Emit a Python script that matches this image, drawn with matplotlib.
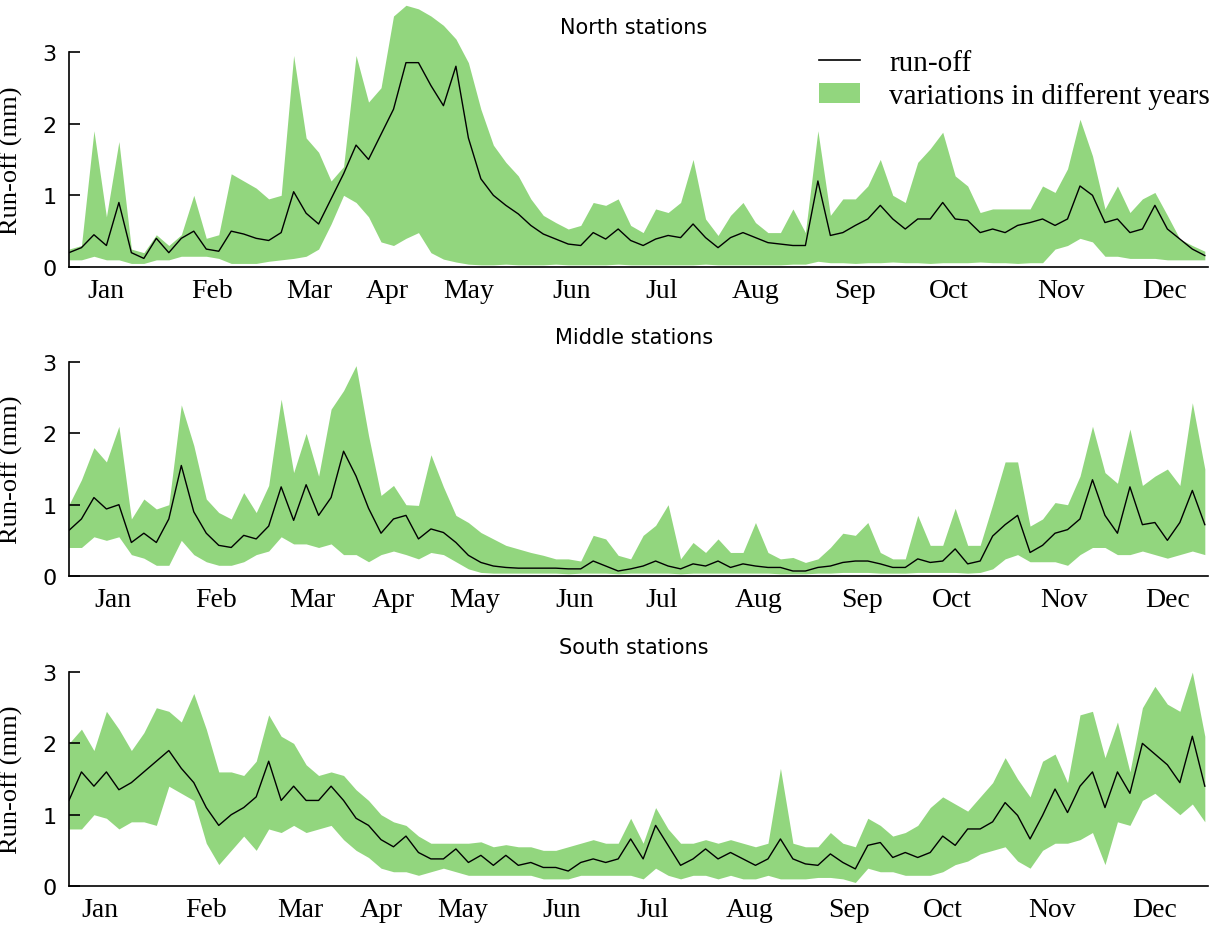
import numpy as np
import matplotlib
matplotlib.use('Agg')
import matplotlib.pyplot as plt
from matplotlib.lines import Line2D
from matplotlib.patches import Patch

# day of year, sampled every 4 days
days = np.arange(0, 365, 4)

months = ['Jan', 'Feb', 'Mar', 'Apr', 'May', 'Jun', 'Jul', 'Aug', 'Sep', 'Oct', 'Nov', 'Dec']
# the month labels sit at slightly different places in each panel
north_ticks = [12, 46, 77, 102, 128, 161, 190, 220, 252, 282, 318, 351]
middle_ticks = [14, 47, 78, 104, 130, 162, 190, 221, 254, 283, 319, 352]
south_ticks = [10, 44, 74, 100, 126, 158, 187, 218, 250, 280, 315, 348]

north_mean = [0.2, 0.27, 0.45, 0.3, 0.9, 0.2, 0.12, 0.4, 0.2, 0.4, 0.5, 0.25, 0.22, 0.5, 0.46,
              0.4, 0.37, 0.48, 1.05, 0.75, 0.6, 0.95, 1.3, 1.7, 1.5, 1.85, 2.2, 2.85, 2.85,
              2.53, 2.25, 2.8, 1.8, 1.23, 1.0, 0.86, 0.74, 0.58, 0.46, 0.39, 0.32, 0.3, 0.48, 0.39,
              0.53, 0.37, 0.3, 0.39, 0.44, 0.41, 0.6, 0.41, 0.27, 0.41, 0.48, 0.41, 0.34, 0.32, 0.3, 0.3,
              1.2, 0.44, 0.48, 0.58, 0.67, 0.86, 0.67, 0.53, 0.67, 0.67, 0.9, 0.67, 0.65, 0.48, 0.53, 0.48,
              0.58, 0.62, 0.67, 0.58, 0.67, 1.13, 1.0, 0.62, 0.67, 0.48, 0.53, 0.86, 0.53, 0.39, 0.25, 0.16]
north_high = [0.25, 0.3, 1.9, 0.7, 1.75, 0.25, 0.2, 0.45, 0.3, 0.45, 1.0, 0.4, 0.45, 1.3, 1.2,
              1.1, 0.95, 1.0, 2.95, 1.8, 1.6, 1.2, 1.4, 2.95, 2.3, 2.5, 3.5, 3.65, 3.6,
              3.5, 3.37, 3.18, 2.85, 2.2, 1.7, 1.46, 1.27, 0.95, 0.72, 0.62, 0.53, 0.58, 0.9, 0.86,
              0.95, 0.58, 0.48, 0.81, 0.76, 0.9, 1.5, 0.67, 0.44, 0.72, 0.9, 0.62, 0.48, 0.48, 0.81, 0.48,
              1.9, 0.72, 0.95, 0.95, 1.13, 1.5, 1.0, 0.9, 1.46, 1.65, 1.88, 1.27, 1.13, 0.76, 0.81, 0.81,
              0.81, 0.81, 1.13, 1.04, 1.37, 2.06, 1.55, 0.81, 1.13, 0.76, 0.95, 1.04, 0.72, 0.39, 0.3, 0.22]
north_low = [0.1, 0.1, 0.15, 0.1, 0.1, 0.05, 0.05, 0.1, 0.1, 0.15, 0.15, 0.15, 0.12, 0.05, 0.05,
             0.05, 0.08, 0.1, 0.12, 0.15, 0.25, 0.6, 1.0, 0.9, 0.7, 0.35, 0.3, 0.4, 0.48,
             0.2, 0.11, 0.07, 0.04, 0.03, 0.03, 0.04, 0.03, 0.03, 0.03, 0.04, 0.03, 0.03, 0.03, 0.03,
             0.04, 0.03, 0.03, 0.03, 0.03, 0.03, 0.03, 0.04, 0.03, 0.03, 0.03, 0.03, 0.03, 0.03, 0.04, 0.04,
             0.08, 0.06, 0.06, 0.05, 0.06, 0.06, 0.07, 0.06, 0.06, 0.05, 0.06, 0.06, 0.06, 0.07, 0.06, 0.06,
             0.05, 0.06, 0.06, 0.25, 0.3, 0.4, 0.35, 0.15, 0.15, 0.12, 0.12, 0.12, 0.1, 0.1, 0.1, 0.1]

middle_mean = [0.64, 0.8, 1.1, 0.94, 1.0, 0.47, 0.6, 0.47, 0.8, 1.55, 0.9, 0.6, 0.43, 0.4, 0.57,
               0.52, 0.7, 1.25, 0.78, 1.28, 0.85, 1.1, 1.75, 1.4, 0.95, 0.6, 0.8, 0.85, 0.52,
               0.66, 0.61, 0.47, 0.29, 0.19, 0.14, 0.12, 0.11, 0.11, 0.11, 0.11, 0.1, 0.1, 0.21, 0.14,
               0.07, 0.1, 0.14, 0.21, 0.14, 0.1, 0.17, 0.14, 0.21, 0.12, 0.17, 0.14, 0.12, 0.12, 0.07, 0.07,
               0.12, 0.14, 0.19, 0.21, 0.21, 0.17, 0.12, 0.12, 0.24, 0.19, 0.21, 0.38, 0.17, 0.21, 0.56, 0.72,
               0.85, 0.33, 0.43, 0.6, 0.65, 0.8, 1.35, 0.85, 0.6, 1.25, 0.72, 0.75, 0.5, 0.75, 1.2, 0.72]
middle_high = [1.0, 1.35, 1.8, 1.6, 2.1, 0.8, 1.08, 0.94, 1.0, 2.4, 1.83, 1.08, 0.89, 0.8, 1.17,
               0.89, 1.27, 2.48, 1.45, 2.0, 1.4, 2.34, 2.6, 2.95, 1.97, 1.13, 1.27, 1.0, 0.99,
               1.7, 1.25, 0.85, 0.75, 0.61, 0.52, 0.43, 0.38, 0.33, 0.29, 0.24, 0.24, 0.21, 0.57, 0.52,
               0.29, 0.24, 0.57, 0.71, 1.0, 0.24, 0.47, 0.33, 0.52, 0.33, 0.33, 0.75, 0.33, 0.24, 0.26, 0.19,
               0.24, 0.4, 0.6, 0.57, 0.75, 0.33, 0.24, 0.24, 0.85, 0.43, 0.43, 0.95, 0.43, 0.43, 1.0, 1.6,
               1.6, 0.7, 0.8, 1.03, 1.0, 1.4, 2.1, 1.45, 1.3, 2.06, 1.27, 1.4, 1.5, 1.27, 2.43, 1.5]
middle_low = [0.4, 0.4, 0.55, 0.5, 0.55, 0.3, 0.25, 0.15, 0.15, 0.5, 0.3, 0.2, 0.15, 0.15, 0.2,
              0.3, 0.35, 0.55, 0.45, 0.45, 0.4, 0.45, 0.3, 0.3, 0.2, 0.3, 0.35, 0.3, 0.24,
              0.33, 0.3, 0.2, 0.1, 0.05, 0.04, 0.04, 0.04, 0.04, 0.04, 0.04, 0.03, 0.04, 0.04, 0.04,
              0.03, 0.04, 0.04, 0.04, 0.04, 0.03, 0.04, 0.04, 0.04, 0.04, 0.04, 0.04, 0.04, 0.03, 0.03, 0.03,
              0.04, 0.04, 0.05, 0.05, 0.05, 0.04, 0.04, 0.04, 0.05, 0.05, 0.05, 0.05, 0.04, 0.05, 0.1, 0.24,
              0.3, 0.2, 0.2, 0.2, 0.15, 0.3, 0.4, 0.4, 0.3, 0.3, 0.35, 0.3, 0.25, 0.3, 0.35, 0.3]

south_mean = [1.2, 1.6, 1.4, 1.6, 1.35, 1.45, 1.6, 1.75, 1.9, 1.65, 1.45, 1.1, 0.85, 1.0, 1.1,
              1.25, 1.75, 1.2, 1.4, 1.2, 1.2, 1.4, 1.2, 0.95, 0.85, 0.65, 0.55, 0.7, 0.47,
              0.38, 0.38, 0.52, 0.33, 0.43, 0.29, 0.43, 0.29, 0.33, 0.26, 0.26, 0.21, 0.33, 0.38, 0.33,
              0.38, 0.66, 0.38, 0.85, 0.57, 0.29, 0.38, 0.52, 0.38, 0.47, 0.38, 0.29, 0.38, 0.66, 0.38, 0.31,
              0.29, 0.45, 0.33, 0.24, 0.57, 0.61, 0.4, 0.47, 0.4, 0.47, 0.7, 0.57, 0.8, 0.8, 0.9, 1.17,
              0.99, 0.66, 0.99, 1.36, 1.03, 1.4, 1.6, 1.1, 1.6, 1.3, 2.0, 1.85, 1.7, 1.45, 2.1, 1.4]
south_high = [2.0, 2.2, 1.9, 2.45, 2.2, 1.9, 2.15, 2.5, 2.45, 2.3, 2.7, 2.2, 1.6, 1.6, 1.55,
              1.75, 2.4, 2.1, 2.0, 1.7, 1.55, 1.6, 1.55, 1.35, 1.2, 1.0, 0.9, 0.85, 0.7,
              0.6, 0.6, 0.6, 0.6, 0.62, 0.55, 0.58, 0.55, 0.55, 0.5, 0.5, 0.55, 0.6, 0.65, 0.6,
              0.6, 0.95, 0.6, 1.1, 0.8, 0.6, 0.6, 0.65, 0.6, 0.65, 0.6, 0.55, 0.6, 1.65, 0.6, 0.55,
              0.55, 0.75, 0.6, 0.55, 0.95, 0.85, 0.7, 0.75, 0.85, 1.1, 1.25, 1.15, 1.05, 1.25, 1.45, 1.8,
              1.5, 1.25, 1.75, 1.85, 1.45, 2.4, 2.45, 1.8, 2.3, 1.6, 2.5, 2.8, 2.55, 2.45, 3.0, 2.1]
south_low = [0.8, 0.8, 1.0, 0.95, 0.8, 0.9, 0.9, 0.85, 1.4, 1.3, 1.2, 0.6, 0.3, 0.5, 0.7,
             0.5, 0.8, 0.75, 0.85, 0.75, 0.8, 0.85, 0.65, 0.5, 0.4, 0.25, 0.2, 0.2, 0.15,
             0.2, 0.25, 0.2, 0.15, 0.15, 0.15, 0.15, 0.15, 0.15, 0.1, 0.1, 0.1, 0.15, 0.15, 0.15,
             0.15, 0.15, 0.1, 0.25, 0.15, 0.1, 0.15, 0.15, 0.1, 0.15, 0.1, 0.1, 0.15, 0.1, 0.1, 0.1,
             0.12, 0.12, 0.1, 0.05, 0.25, 0.2, 0.2, 0.15, 0.15, 0.15, 0.2, 0.3, 0.35, 0.45, 0.5, 0.55,
             0.35, 0.25, 0.5, 0.6, 0.6, 0.65, 0.75, 0.3, 0.9, 0.85, 1.2, 1.3, 1.15, 1.0, 1.15, 0.9]

GREEN = '#92d67e'
SERIF = 'Liberation Serif'

fig = plt.figure(figsize=(12.1, 9.29), dpi=100)

panels = [
    ('North stations', north_mean, north_low, north_high, north_ticks, 0.7115, 0.2856, 0.970),
    ('Middle stations', middle_mean, middle_low, middle_high, middle_ticks, 0.3789, 0.2840, 0.636),
    ('South stations', south_mean, south_low, south_high, south_ticks, 0.0452, 0.2840, 0.3025),
]

axes = []
for title, mean, low, high, ticks, bottom, height, ty in panels:
    ax = fig.add_axes([0.057, bottom, 0.9413, height])
    ax.fill_between(days, low, high, color=GREEN, linewidth=0)
    ax.plot(days, mean, color='black', linewidth=1.0)

    ax.set_xlim(0, 365)
    ax.set_ylim(0, 3.7)
    ax.set_yticks([0, 1, 2, 3])
    ax.set_xticks(ticks)
    ax.set_xticklabels(months, fontfamily=SERIF, fontsize=20)
    ax.tick_params(axis='x', length=0, pad=8)
    ax.tick_params(axis='y', direction='in', length=8, width=1.2, pad=9, labelsize=16)

    for side in ['top', 'right']:
        ax.spines[side].set_visible(False)
    ax.spines['left'].set_bounds(0, 3)
    ax.spines['left'].set_linewidth(1.2)
    ax.spines['bottom'].set_linewidth(1.2)

    ax.set_ylabel('Run-off (mm)', fontfamily=SERIF, fontsize=19)
    ax.yaxis.set_label_coords(-0.040, 1.5 / 3.7)

    fig.text(0.524, ty, title, ha='center', va='center', fontsize=15, family='DejaVu Sans')
    axes.append(ax)

handles = [Line2D([], [], color='black', linewidth=1.2), Patch(facecolor=GREEN, edgecolor='none')]
axes[0].legend(handles, ['run-off', 'variations in different years'],
               loc='upper right', bbox_to_anchor=(1.0, 1 - 51 / 929), bbox_transform=fig.transFigure,
               frameon=False, prop={'family': SERIF, 'size': 21},
               handlelength=1.4, handletextpad=1.0, labelspacing=0.2, borderpad=0, borderaxespad=0)

fig.savefig('out.png', dpi=100)
